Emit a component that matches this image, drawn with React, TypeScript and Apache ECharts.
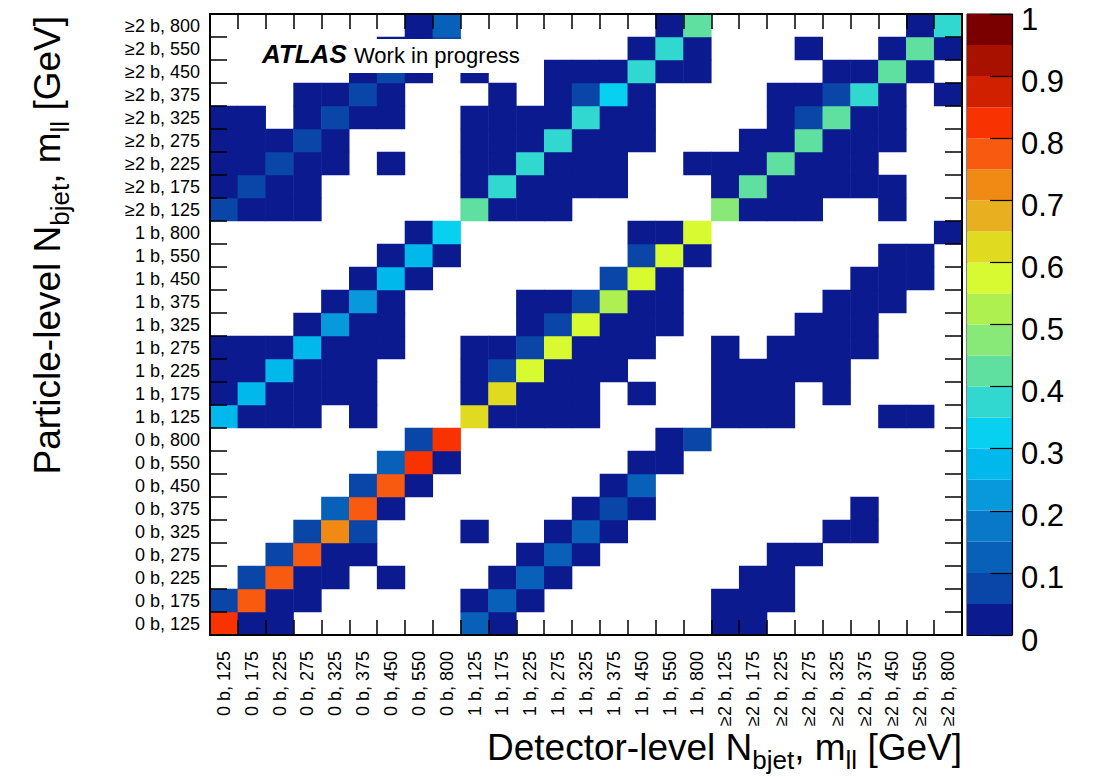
import React, { useEffect, useRef } from "react";
import * as echarts from "echarts";

// Bin labels (detector level on x, particle level on y), bottom/left first
const binLabels: string[] = [
  "0 b, 125", "0 b, 175", "0 b, 225", "0 b, 275", "0 b, 325", "0 b, 375", "0 b, 450", "0 b, 550", "0 b, 800",
  "1 b, 125", "1 b, 175", "1 b, 225", "1 b, 275", "1 b, 325", "1 b, 375", "1 b, 450", "1 b, 550", "1 b, 800",
  "≥2 b, 125", "≥2 b, 175", "≥2 b, 225", "≥2 b, 275", "≥2 b, 325", "≥2 b, 375", "≥2 b, 450", "≥2 b, 550", "≥2 b, 800",
];

// Colour palette: 20 levels of width 0.05 from 0 to 1
const levelStep = 0.05;
const paletteColors: string[] = [
  "#0b1a8e", "#0a46a8", "#0860b8", "#0a78c8", "#0898dc",
  "#00b8ec", "#08d0f0", "#30d8d0", "#60e0a0", "#88e878",
  "#aef050", "#d8fa30", "#e0da20", "#e8b020", "#f08a15",
  "#f85a10", "#f83200", "#d02000", "#a81000", "#7a0000",
];

// Migration matrix: one row per particle-level bin (0 b,125 first), 27 detector-level columns; 0 = empty
const migrationRows: number[][] = [
  [0.82, 0.02, 0.02, 0, 0, 0, 0, 0, 0, 0.12, 0.02, 0, 0, 0, 0, 0, 0, 0, 0.02, 0.02, 0, 0, 0, 0, 0, 0, 0],
  [0.07, 0.77, 0.02, 0.02, 0, 0, 0, 0, 0, 0.02, 0.12, 0.02, 0, 0, 0, 0, 0, 0, 0.02, 0.02, 0.02, 0, 0, 0, 0, 0, 0],
  [0, 0.07, 0.77, 0.02, 0.02, 0, 0.02, 0, 0, 0, 0.02, 0.12, 0.02, 0, 0, 0, 0, 0, 0, 0.02, 0.02, 0, 0, 0, 0, 0, 0],
  [0, 0, 0.07, 0.77, 0.02, 0.02, 0, 0, 0, 0, 0, 0.02, 0.12, 0.02, 0, 0, 0, 0, 0, 0, 0.02, 0.02, 0, 0, 0, 0, 0],
  [0, 0, 0, 0.07, 0.72, 0.07, 0, 0, 0, 0.02, 0, 0, 0.02, 0.12, 0.02, 0, 0, 0, 0, 0, 0, 0, 0.02, 0.02, 0, 0, 0],
  [0, 0, 0, 0, 0.12, 0.77, 0.02, 0, 0, 0, 0, 0, 0, 0.02, 0.07, 0.02, 0, 0, 0, 0, 0, 0, 0, 0.02, 0, 0, 0],
  [0, 0, 0, 0, 0, 0.07, 0.77, 0.02, 0, 0, 0, 0, 0, 0, 0.02, 0.12, 0, 0, 0, 0, 0, 0, 0, 0, 0, 0, 0],
  [0, 0, 0, 0, 0, 0, 0.12, 0.82, 0.02, 0, 0, 0, 0, 0, 0, 0.02, 0.02, 0, 0, 0, 0, 0, 0, 0, 0, 0, 0],
  [0, 0, 0, 0, 0, 0, 0, 0.07, 0.82, 0, 0, 0, 0, 0, 0, 0, 0.02, 0.07, 0, 0, 0, 0, 0, 0, 0, 0, 0],
  [0.27, 0.02, 0.02, 0.02, 0, 0.02, 0, 0, 0, 0.62, 0.02, 0.02, 0.02, 0.02, 0, 0, 0, 0, 0.02, 0.02, 0.02, 0, 0, 0, 0.02, 0.02, 0],
  [0.02, 0.27, 0.02, 0.02, 0.02, 0.02, 0, 0, 0, 0.02, 0.62, 0.02, 0.02, 0.02, 0, 0.02, 0, 0, 0.02, 0.02, 0.02, 0, 0.02, 0, 0, 0, 0],
  [0.02, 0.02, 0.27, 0.02, 0.02, 0.02, 0, 0, 0, 0.02, 0.07, 0.57, 0.02, 0.02, 0.02, 0, 0, 0, 0.02, 0.02, 0.02, 0.02, 0.02, 0, 0, 0, 0],
  [0.02, 0.02, 0.02, 0.27, 0.02, 0.02, 0.02, 0, 0, 0.02, 0.02, 0.07, 0.57, 0.02, 0.02, 0.02, 0, 0, 0.02, 0, 0.02, 0.02, 0.02, 0.02, 0, 0, 0],
  [0, 0, 0, 0.02, 0.22, 0.02, 0.02, 0, 0, 0, 0, 0.02, 0.07, 0.57, 0.02, 0.02, 0.02, 0, 0, 0, 0, 0.02, 0.02, 0.02, 0, 0, 0],
  [0, 0, 0, 0, 0.02, 0.22, 0.02, 0, 0, 0, 0, 0.02, 0.02, 0.07, 0.52, 0.02, 0.02, 0, 0, 0, 0, 0, 0.02, 0.02, 0.02, 0, 0],
  [0, 0, 0, 0, 0, 0.02, 0.27, 0.02, 0, 0, 0, 0, 0, 0, 0.07, 0.57, 0.02, 0, 0, 0, 0, 0, 0, 0.02, 0.02, 0.02, 0],
  [0, 0, 0, 0, 0, 0, 0.02, 0.27, 0.02, 0, 0, 0, 0, 0, 0, 0.07, 0.57, 0.02, 0, 0, 0, 0, 0, 0, 0.02, 0.02, 0],
  [0, 0, 0, 0, 0, 0, 0, 0.02, 0.32, 0, 0, 0, 0, 0, 0, 0.02, 0.02, 0.57, 0, 0, 0, 0, 0, 0, 0, 0, 0.02],
  [0.07, 0.02, 0.02, 0.02, 0, 0, 0, 0, 0, 0.42, 0.02, 0.02, 0.02, 0, 0, 0, 0, 0, 0.47, 0.02, 0.02, 0.02, 0, 0, 0.02, 0, 0],
  [0.02, 0.07, 0.02, 0.02, 0, 0, 0, 0, 0, 0.02, 0.37, 0.02, 0.02, 0.02, 0.02, 0, 0, 0, 0.02, 0.42, 0.02, 0.02, 0.02, 0.02, 0.02, 0, 0],
  [0.02, 0.02, 0.07, 0.02, 0.02, 0, 0.02, 0, 0, 0.02, 0.02, 0.37, 0.02, 0.02, 0.02, 0, 0, 0.02, 0.02, 0.02, 0.42, 0.02, 0.02, 0.02, 0, 0, 0],
  [0.02, 0.02, 0.02, 0.07, 0.02, 0, 0, 0, 0, 0.02, 0.02, 0.02, 0.37, 0.02, 0.02, 0.02, 0, 0, 0, 0.02, 0.02, 0.42, 0.02, 0.02, 0.02, 0, 0],
  [0.02, 0.02, 0, 0.02, 0.07, 0.02, 0.02, 0, 0, 0.02, 0.02, 0.02, 0.02, 0.37, 0.02, 0.02, 0, 0, 0, 0, 0.02, 0.07, 0.42, 0.02, 0.02, 0, 0],
  [0, 0, 0, 0.02, 0.02, 0.07, 0.02, 0, 0, 0, 0.02, 0, 0.02, 0.07, 0.32, 0.02, 0, 0, 0, 0, 0.02, 0.02, 0.07, 0.37, 0.02, 0, 0.02],
  [0, 0, 0, 0, 0, 0.02, 0.07, 0.02, 0, 0.02, 0, 0, 0.02, 0.02, 0.02, 0.37, 0.02, 0.02, 0, 0, 0, 0, 0.02, 0.02, 0.42, 0.02, 0],
  [0, 0, 0, 0, 0, 0, 0.02, 0.02, 0.07, 0, 0, 0, 0, 0, 0, 0.02, 0.37, 0.02, 0, 0, 0, 0.02, 0, 0, 0.02, 0.42, 0.02],
  [0, 0, 0, 0, 0, 0, 0, 0.02, 0.12, 0, 0, 0, 0, 0, 0, 0, 0.02, 0.42, 0, 0, 0, 0, 0, 0, 0, 0.02, 0.37],
];

// Axis titles: [text, isSubscript]
const xTitleParts: [string, boolean][] = [["Detector-level N", false], ["bjet", true], [", m", false], ["ll", true], [" [GeV]", false]];
const yTitleParts: [string, boolean][] = [["Particle-level N", false], ["bjet", true], [", m", false], ["ll", true], [" [GeV]", false]];

const FONT = "'Liberation Sans', Arial, Helvetica, sans-serif";
const MAIN_SIZE = 37;
const SUB_SIZE = 26;
const SUB_DROP = 9;
const CENTRAL = 0.3465; // distance from baseline to the em-box centre, in em

function measure(text: string, size: number): number {
  const ctx = document.createElement("canvas").getContext("2d");
  if (!ctx) return text.length * size * 0.55;
  ctx.font = `${size}px ${FONT}`;
  return ctx.measureText(text).width;
}

// Builds text pieces along a baseline, right-aligned at local x = 0, baseline at local y = baseline
function titlePieces(parts: [string, boolean][], baseline: number) {
  const widths = parts.map(([t, sub]) => measure(t, sub ? SUB_SIZE : MAIN_SIZE));
  const total = widths.reduce((a, b) => a + b, 0);
  let x = -total;
  return parts.map(([t, sub], i) => {
    const size = sub ? SUB_SIZE : MAIN_SIZE;
    const base = baseline + (sub ? SUB_DROP : 0);
    const el = {
      type: "text",
      x,
      y: base - CENTRAL * size,
      style: {
        text: t,
        fontFamily: FONT,
        fontSize: size,
        fill: "#000",
        textAlign: "left",
        textVerticalAlign: "middle",
      },
    };
    x += widths[i];
    return el;
  });
}

export default function App() {
  const ref = useRef<HTMLDivElement>(null);

  useEffect(() => {
    if (!ref.current) return;
    const chart = echarts.init(ref.current, null, { renderer: "svg" });

    const cells: number[][] = [];
    migrationRows.forEach((row, y) =>
      row.forEach((v, x) => {
        if (v > 0) cells.push([x, y, v]);
      })
    );

    const pieces = paletteColors.map((c, i) => ({
      gte: i * levelStep,
      lt: (i + 1) * levelStep + (i === paletteColors.length - 1 ? 0.001 : 0),
      color: c,
    }));

    const frameLine = { show: true, lineStyle: { color: "#000", width: 2 } };
    const tickStyle = { color: "#000", width: 1.5 };

    const paletteSeries = paletteColors.map((c) => ({
      type: "bar",
      xAxisIndex: 2,
      yAxisIndex: 2,
      stack: "palette",
      barWidth: "100%",
      data: [levelStep],
      itemStyle: { color: c },
      silent: true,
      z: 1,
    }));

    chart.setOption({
      animation: false,
      backgroundColor: "#fff",
      grid: [
        { left: 210, right: 134, top: 14, bottom: 142 },
        { left: 967, right: 84, top: 14, bottom: 142, show: true, borderColor: "#000", borderWidth: 1 },
      ],
      visualMap: {
        type: "piecewise",
        show: false,
        seriesIndex: 0,
        dimension: 2,
        pieces,
      },
      xAxis: [
        {
          type: "category",
          gridIndex: 0,
          data: binLabels,
          position: "bottom",
          z: 20,
          axisLine: frameLine,
          axisTick: { show: true, inside: true, length: 15, interval: 0, lineStyle: tickStyle },
          axisLabel: { interval: 0, rotate: 90, fontSize: 18, color: "#000", margin: 16, fontFamily: FONT },
          splitLine: { show: false },
        },
        {
          type: "category",
          gridIndex: 0,
          data: binLabels,
          position: "top",
          z: 20,
          axisLine: frameLine,
          axisTick: { show: true, inside: true, length: 15, interval: 0, lineStyle: tickStyle },
          axisLabel: { show: false },
          splitLine: { show: false },
        },
        {
          type: "category",
          gridIndex: 1,
          data: ["palette"],
          position: "bottom",
          z: 20,
          axisLine: { show: true, lineStyle: { color: "#000", width: 1 } },
          axisTick: { show: false },
          axisLabel: { show: false },
        },
      ],
      yAxis: [
        {
          type: "category",
          gridIndex: 0,
          data: binLabels,
          position: "left",
          z: 20,
          axisLine: frameLine,
          axisTick: { show: true, inside: true, length: 17, interval: 0, lineStyle: tickStyle },
          axisLabel: { interval: 0, fontSize: 18, color: "#000", margin: 10, fontFamily: FONT },
          splitLine: { show: false },
        },
        {
          type: "category",
          gridIndex: 0,
          data: binLabels,
          position: "right",
          z: 20,
          axisLine: frameLine,
          axisTick: { show: true, inside: true, length: 17, interval: 0, lineStyle: tickStyle },
          axisLabel: { show: false },
          splitLine: { show: false },
        },
        {
          type: "value",
          gridIndex: 1,
          position: "right",
          min: 0,
          max: 1,
          interval: 0.1,
          z: 20,
          axisLine: { show: true, lineStyle: { color: "#000", width: 1.2 } },
          axisTick: { show: true, inside: true, length: 22, lineStyle: { color: "#000", width: 1.2 } },
          axisLabel: {
            fontSize: 31,
            color: "#000",
            margin: 9,
            fontFamily: FONT,
            verticalAlign: "top",
            lineHeight: 10,
          },
          splitLine: { show: false },
        },
      ],
      series: [
        {
          type: "heatmap",
          xAxisIndex: 0,
          yAxisIndex: 0,
          data: cells,
          itemStyle: { borderWidth: 0 },
          emphasis: { disabled: true },
          silent: true,
        },
        ...paletteSeries,
      ],
      graphic: [
        {
          type: "rect",
          z: 100,
          shape: { x: 258, y: 39, width: 275, height: 34 },
          style: { fill: "#fff" },
        },
        {
          type: "text",
          z: 101,
          x: 262,
          y: 54,
          style: {
            text: "ATLAS",
            fontFamily: FONT,
            fontSize: 26,
            fontWeight: "bold",
            fontStyle: "italic",
            fill: "#000",
            textAlign: "left",
            textVerticalAlign: "middle",
          },
        },
        {
          type: "text",
          z: 101,
          x: 354,
          y: 55,
          style: {
            text: "Work in progress",
            fontFamily: FONT,
            fontSize: 22,
            fill: "#000",
            textAlign: "left",
            textVerticalAlign: "middle",
          },
        },
        {
          type: "group",
          z: 101,
          x: 962,
          y: 0,
          children: titlePieces(xTitleParts, 760),
        },
        {
          type: "group",
          z: 101,
          x: 27,
          y: 16,
          rotation: Math.PI / 2,
          children: titlePieces(yTitleParts, 33),
        },
      ],
    });

    return () => chart.dispose();
  }, []);

  return (
    <div
      ref={ref}
      style={{ position: "fixed", left: 0, top: 0, width: 1096, height: 777, background: "#fff" }}
    />
  );
}
